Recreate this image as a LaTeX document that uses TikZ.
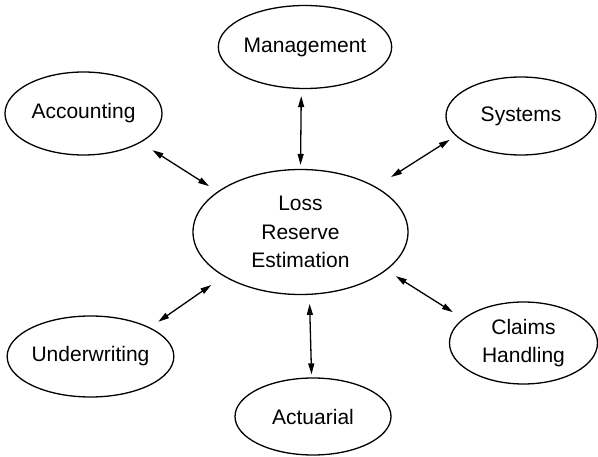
\documentclass[tikz,border=0pt]{standalone}
\usepackage{fontspec}
\setmainfont{Liberation Sans}
\usetikzlibrary{shapes.geometric,arrows.meta}
\tikzset{
  bub/.style={draw, ellipse, line width=1.3pt, inner sep=0pt, align=center,
    font=\fontsize{21}{28.5}\selectfont},
  link/.style={line width=1.3pt, {Triangle[length=11pt,width=6pt]}-{Triangle[length=11pt,width=6pt]}}
}
\begin{document}
\begin{tikzpicture}[x=1pt,y=-1pt]
\useasboundingbox (0,0) rectangle (598,457);
\node[bub, minimum width=215pt, minimum height=125pt] (ctr) at (300.5,232) {Loss\\Reserve\\Estimation};
\node[bub, minimum width=156pt, minimum height=83pt] (mgmt) at (305,47) {Management};
\node[bub, minimum width=157pt, minimum height=83pt] (acc) at (83.5,113.5) {Accounting};
\node[bub, minimum width=150pt, minimum height=78pt] (sys) at (521,116) {Systems};
\node[bub, minimum width=155pt, minimum height=81pt] (und) at (90.5,356.5) {Underwriting};
\node[bub, minimum width=148pt, minimum height=82pt] (clm) at (523.5,343) {Claims\\Handling};
\node[bub, minimum width=156pt, minimum height=77pt] (act) at (313,416.5) {Actuarial};
\draw[link, shorten <=14pt, shorten >=10pt] (acc.-27) -- (ctr.154);
\draw[link, shorten <=7pt, shorten >=4pt] (mgmt.-95) -- (ctr.90);
\draw[link, shorten <=7pt, shorten >=18pt] (sys.197) -- (ctr.31);
\draw[link, shorten <=10pt, shorten >=15pt] (und.26) -- (ctr.210);
\draw[link, shorten <=9pt, shorten >=3pt] (ctr.-82) -- (act.92);
\draw[link, shorten <=12pt, shorten >=11pt] (clm.158) -- (ctr.-24.5);
\end{tikzpicture}
\end{document}
